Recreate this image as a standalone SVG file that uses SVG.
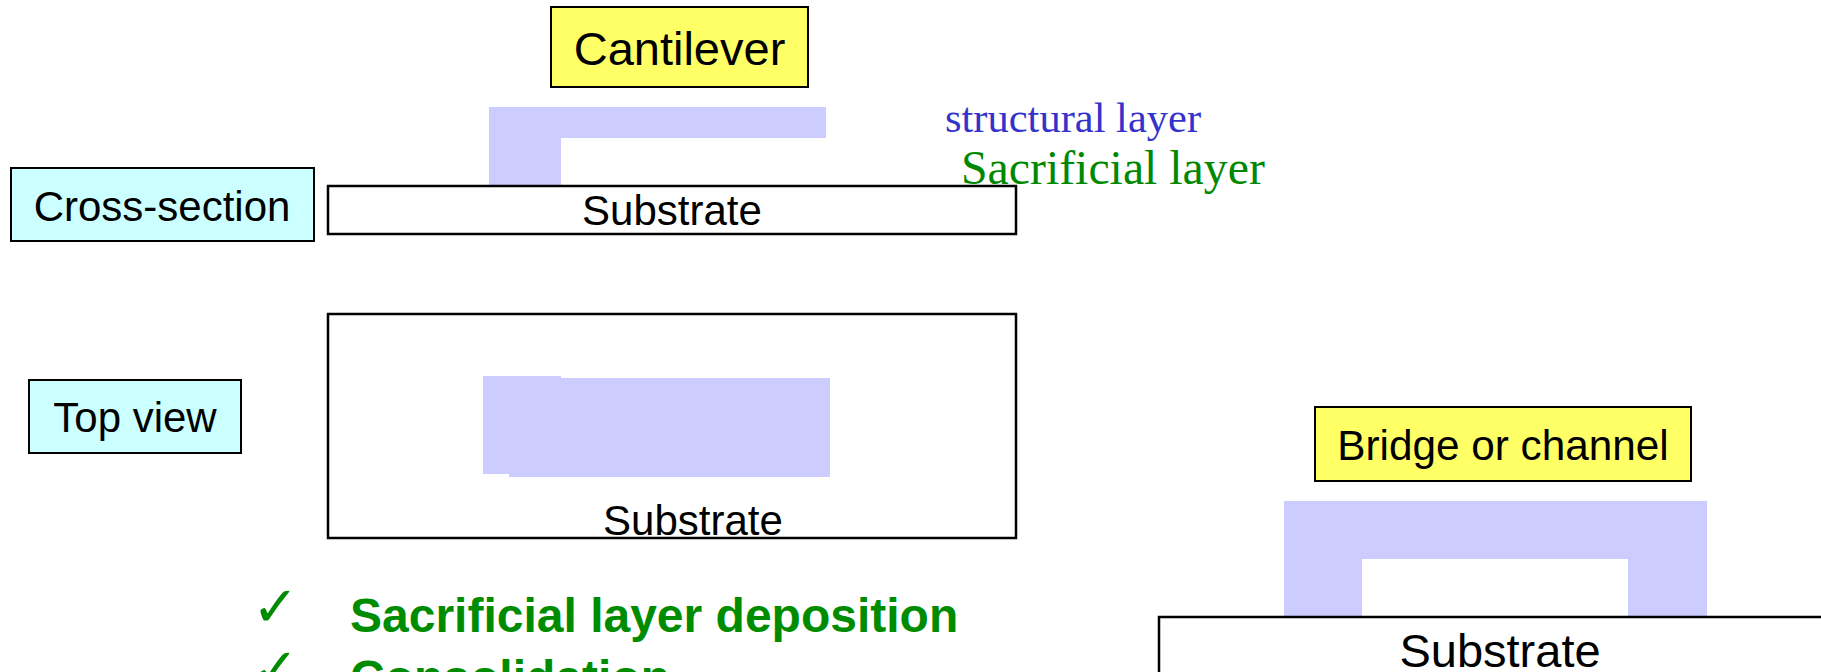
<svg xmlns="http://www.w3.org/2000/svg" width="1821" height="672" viewBox="0 0 1821 672">
<style>
.lbl{stroke:#000;stroke-width:2}
.yel{fill:#ffff66}
.cyan{fill:#ccffff}
.sub{fill:#fff;stroke:#000;stroke-width:2.5}
.layer{fill:#ccccff}
.sans{font-family:"Liberation Sans",Arial,sans-serif;fill:#000}
.serif{font-family:"Liberation Serif","Times New Roman",serif}
.bold{font-family:"Liberation Sans",Arial,sans-serif;font-weight:bold;fill:#008c00;font-size:48px}
.chk{font-family:"DejaVu Sans",sans-serif;fill:#008c00;font-size:56px}
</style>
<rect width="1821" height="672" fill="#fff"/>

<g id="cantilever-label">
<rect class="lbl yel" x="551" y="7" width="257" height="80"/>
<text class="sans" x="679.5" y="65" font-size="47" text-anchor="middle">Cantilever</text>
</g>

<g id="cantilever-beam">
<rect class="layer" x="489" y="107" width="337" height="31"/>
<rect class="layer" x="489" y="137" width="72" height="49"/>
</g>

<g id="structural-label">
<text class="serif" x="945" y="132" font-size="42.5" fill="#3333cc">structural layer</text>
</g>

<g id="substrate-cross">
<rect class="sub" x="328" y="186" width="688" height="48"/>
<text class="sans" x="672" y="225" font-size="42" text-anchor="middle">Substrate</text>
</g>

<g id="sacrificial-label">
<text class="serif" x="961" y="184" font-size="47.8" fill="#008800">Sacrificial layer</text>
</g>

<g id="cross-section-label">
<rect class="lbl cyan" x="11" y="168" width="303" height="73"/>
<text class="sans" x="162" y="221" font-size="42" text-anchor="middle">Cross-section</text>
</g>

<g id="top-view-label">
<rect class="lbl cyan" x="29" y="380" width="212" height="73"/>
<text class="sans" x="135" y="432" font-size="42" text-anchor="middle">Top view</text>
</g>

<g id="substrate-top">
<rect class="sub" x="328" y="314" width="688" height="224"/>
<rect class="layer" x="483" y="376" width="78" height="98"/>
<rect class="layer" x="509" y="378" width="321" height="99"/>
<text class="sans" x="693" y="535" font-size="42" text-anchor="middle">Substrate</text>
</g>

<g id="bridge-label">
<rect class="lbl yel" x="1315" y="407" width="376" height="74"/>
<text class="sans" x="1503" y="460" font-size="42.3" text-anchor="middle">Bridge or channel</text>
</g>

<g id="bridge">
<path class="layer" d="M1284 501H1707V617H1628V559H1362V617H1284Z"/>
</g>

<g id="substrate-bridge">
<rect class="sub" x="1159" y="617" width="700" height="80"/>
<text class="sans" x="1500" y="667" font-size="47" text-anchor="middle">Substrate</text>
</g>

<g id="steps">
<text class="chk" x="252" y="626">✓</text>
<text class="bold" x="350" y="632">Sacrificial layer deposition</text>
<text class="chk" x="252" y="688">✓</text>
<text class="bold" x="350" y="694">Consolidation</text>
</g>

<g id="connectors"></g>
</svg>
